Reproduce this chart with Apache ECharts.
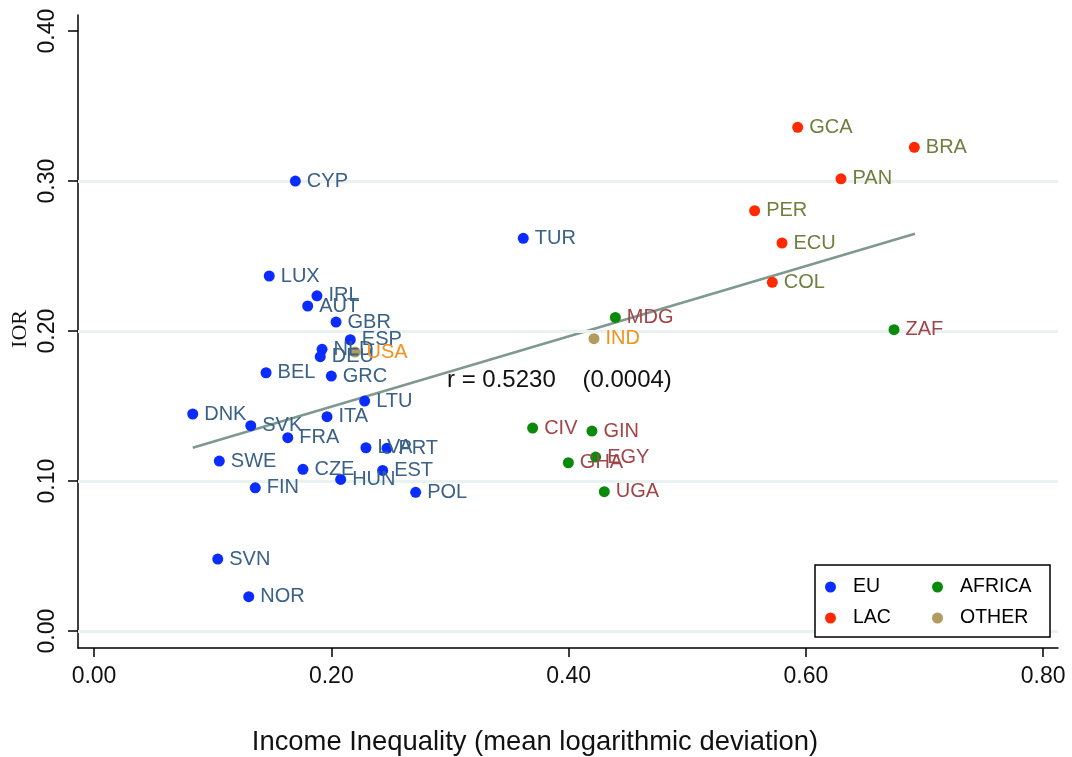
<!DOCTYPE html>
<html>
<head>
<meta charset="utf-8">
<script src="https://cdn.jsdelivr.net/npm/echarts@6/dist/echarts.min.js"></script>
<style>
html,body{margin:0;padding:0;background:#fff;}
#chart{width:1072px;height:757px;}
</style>
</head>
<body>
<div id="chart"></div>
<script>
// ---- data: [country, income inequality (MLD), IOR] ----
const EU = [
  ["CYP",0.1697,0.3000],["TUR",0.3618,0.2618],["LUX",0.1477,0.2367],["IRL",0.1879,0.2235],
  ["AUT",0.1801,0.2167],["GBR",0.2040,0.2060],["ESP",0.2160,0.1942],["NLD",0.1922,0.1878],
  ["DEU",0.1907,0.1829],["BEL",0.1450,0.1722],["GRC",0.2000,0.1700],["LTU",0.2281,0.1533],
  ["DNK",0.0832,0.1447],["ITA",0.1964,0.1429],["SVK",0.1321,0.1369],["FRA",0.1633,0.1289],
  ["LVA",0.2292,0.1222],["PRT",0.2469,0.1218],["SWE",0.1056,0.1133],["CZE",0.1761,0.1078],
  ["EST",0.2433,0.1071],["HUN",0.2079,0.1011],["FIN",0.1359,0.0955],["POL",0.2711,0.0925],
  ["SVN",0.1043,0.0480],["NOR",0.1304,0.0229]
];
const LAC = [
  ["GCA",0.5931,0.3358],["BRA",0.6914,0.3225],["PAN",0.6296,0.3015],
  ["PER",0.5568,0.2802],["ECU",0.5799,0.2587],["COL",0.5717,0.2325]
];
const AFRICA = [
  ["MDG",0.4394,0.2091],["ZAF",0.6743,0.2009],["CIV",0.3697,0.1353],["GIN",0.4197,0.1333],
  ["EGY",0.4228,0.1160],["GHA",0.3998,0.1122],["UGA",0.4301,0.0929]
];
const OTHER = [["USA",0.2200,0.1860],["IND",0.4214,0.1949]];
const fitLine = [[0.0832,0.1222],[0.6919,0.2649]];
const xTicks = [0,0.2,0.4,0.6,0.8];
const yTicks = [0,0.1,0.2,0.3,0.4];
const gridValues = [0,0.1,0.2,0.3];
const corrText = "r = 0.5230    (0.0004)";
const xTitle = "Income Inequality (mean logarithmic deviation)";
const yTitle = "IOR";

const chart = echarts.init(document.getElementById('chart'));
const FONT = 'Liberation Sans, Arial, sans-serif';

function scatterSeries(name, rows, dotColor, labelColor){
  return {
    name: name, type:'scatter', z:5,
    data: rows.map(r => [r[1], r[2], r[0]]),
    symbol:'circle', symbolSize:11,
    itemStyle:{color:dotColor, opacity:1},
    label:{show:true, position:'right', distance:6, formatter:p=>p.data[2],
      color:labelColor, fontSize:20, fontFamily:FONT},
    emphasis:{disabled:true}
  };
}

const option = {
  animation:false,
  backgroundColor:'#fff',
  grid:{left:78, right:14, top:15, bottom:109, containLabel:false},
  xAxis:{
    type:'value', min:-0.0135, max:0.8125,
    axisLine:{onZero:false, lineStyle:{color:'#000', width:1.5}},
    axisTick:{customValues:xTicks, length:9, lineStyle:{color:'#000', width:1.5}},
    axisLabel:{customValues:xTicks, formatter:v=>v.toFixed(2), fontSize:23, color:'#111', margin:17, fontFamily:FONT},
    splitLine:{show:false}
  },
  yAxis:{
    type:'value', min:-0.0113, max:0.4107,
    axisLine:{onZero:false, lineStyle:{color:'#000', width:1.5}},
    axisTick:{customValues:yTicks, length:10, lineStyle:{color:'#000', width:1.5}},
    axisLabel:{customValues:yTicks, formatter:v=>v.toFixed(2), fontSize:23, color:'#111', margin:19, rotate:90, fontFamily:FONT},
    splitLine:{show:false}
  },
  legend:[
    {left:825, top:577, orient:'vertical', padding:0, itemGap:11, itemWidth:35, itemHeight:11, icon:'circle', z:20,
     data:['EU','LAC'], textStyle:{fontSize:19.5, color:'#000', fontFamily:FONT, lineHeight:20}, selectedMode:false},
    {left:932, top:577, orient:'vertical', padding:0, itemGap:11, itemWidth:35, itemHeight:11, icon:'circle', z:20,
     data:['AFRICA','OTHER'], textStyle:{fontSize:19.5, color:'#000', fontFamily:FONT, lineHeight:20}, selectedMode:false}
  ],
  graphic:[
    {type:'rect', z:15, shape:{x:815, y:565, width:235, height:72},
     style:{fill:'#fff', stroke:'#000', lineWidth:1.5}},
    {type:'text', z:15, x:447, y:380, style:{text:corrText, fontSize:24, fontFamily:FONT, fill:'#111', textVerticalAlign:'middle'}},
    {type:'text', z:15, x:535, y:742, style:{text:xTitle, fontSize:27.4, fontFamily:FONT, fill:'#111', textAlign:'center', textVerticalAlign:'middle'}},
    {type:'text', z:15, x:20, y:329, rotation:Math.PI/2, style:{text:yTitle, fontSize:22, fontFamily:'Liberation Serif, serif', fill:'#111', textAlign:'center', textVerticalAlign:'middle'}}
  ],
  series:[
    {name:'grid', type:'line', data:[], z:0, silent:true,
     markLine:{silent:true, symbol:['none','none'], label:{show:false},
       lineStyle:{color:'#e9f1f1', width:3, type:'solid'},
       data:gridValues.map(v=>({yAxis:v}))}},
    {name:'fit', type:'line', data:fitLine, z:2, symbol:'none', silent:true,
     lineStyle:{color:'#7f998f', width:2.5}},
    scatterSeries('EU', EU, '#0a2cff', '#3a6186'),
    scatterSeries('LAC', LAC, '#ff2a00', '#6f7f3f'),
    scatterSeries('AFRICA', AFRICA, '#0a8a0a', '#a0464a'),
    scatterSeries('OTHER', OTHER, '#b19b5e', '#f0921e')
  ]
};
chart.setOption(option);
</script>
</body>
</html>
